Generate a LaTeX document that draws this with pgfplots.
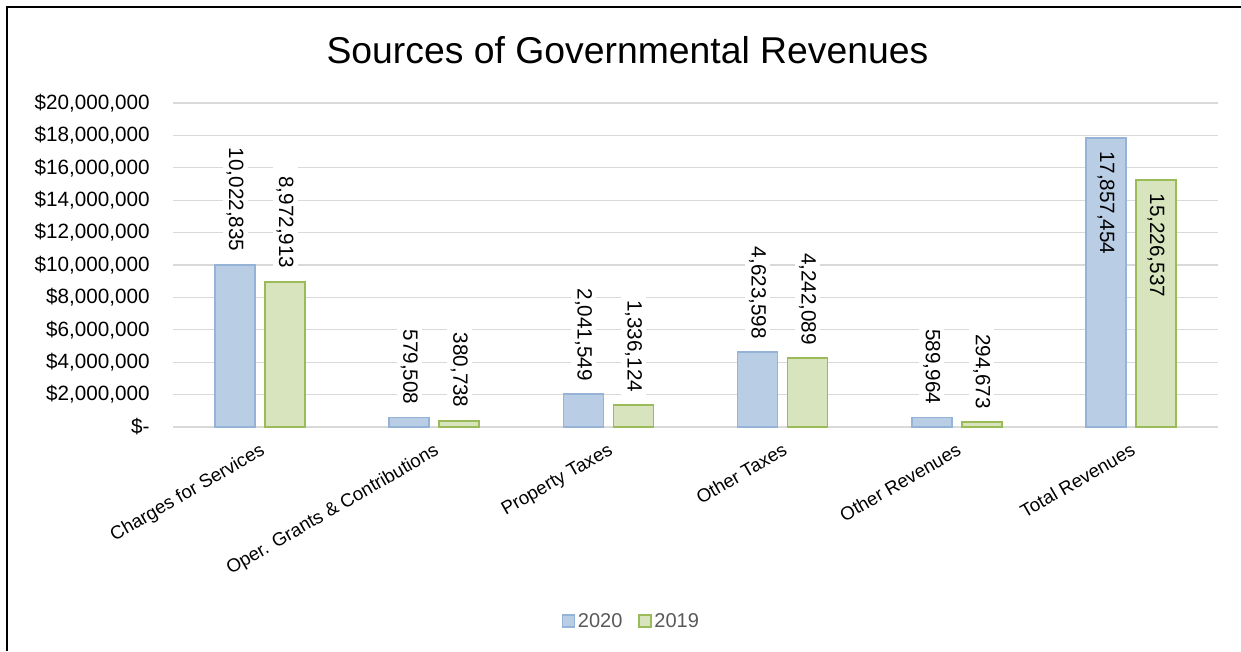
\documentclass[border=0pt]{standalone}
\usepackage{fontspec}
\setmainfont{Liberation Sans}
\usepackage{pgfplots}
\usepackage{pgfplotstable}
\pgfplotsset{compat=1.18}

\definecolor{blueFill}{RGB}{185,205,229}
\definecolor{blueLine}{RGB}{149,179,215}
\definecolor{greenFill}{RGB}{215,228,189}
\definecolor{greenLine}{RGB}{155,187,89}
\definecolor{gridGray}{RGB}{217,217,217}
\definecolor{legGray}{RGB}{89,89,89}

\pgfplotstableread{
x a b la lb
0 10022835 8972913 10,022,835 8,972,913
1 579508 380738 579,508 380,738
2 2041549 1336124 2,041,549 1,336,124
3 4623598 4242089 4,623,598 4,242,089
4 589964 294673 589,964 294,673
5 17857454 15226537 17,857,454 15,226,537
}\revdata

\begin{document}
\begin{tikzpicture}
\useasboundingbox (0,0) rectangle (930.75pt,488.25pt);
\fill[white] (0,0) rectangle (930.75pt,488.25pt);
\draw[line width=1.6pt] (5.25pt,0) -- (5.25pt,483pt) -- (930.75pt,483pt);

\node[font=\fontsize{28}{33}\selectfont] at (470.6pt,450.75pt) {Sources of Governmental Revenues};

\begin{axis}[
    at={(129.75pt,168pt)}, anchor=south west,
    scale only axis,
    width=783.75pt, height=243pt,
    ybar=7.5pt, bar width=30pt,
    xmin=-0.5, xmax=5.5,
    ymin=0, ymax=20000000,
    xtick={0,1,2,3,4,5},
    xticklabels={Charges for Services, Oper. Grants \& Contributions, Property Taxes, Other Taxes, Other Revenues, Total Revenues},
    xticklabel style={rotate=30, anchor=north east, font=\fontsize{14}{16}\selectfont, yshift=-6pt, xshift=-3pt},
    ytick={0,2000000,4000000,6000000,8000000,10000000,12000000,14000000,16000000,18000000,20000000},
    yticklabels={\$-, {\$2,000,000}, {\$4,000,000}, {\$6,000,000}, {\$8,000,000}, {\$10,000,000}, {\$12,000,000}, {\$14,000,000}, {\$16,000,000}, {\$18,000,000}, {\$20,000,000}},
    yticklabel style={font=\fontsize{15.5}{18}\selectfont, anchor=east, xshift=-14pt},
    scaled y ticks=false,
    major tick length=0pt,
    ymajorgrids, grid style={gridGray, line width=0.9pt},
    axis x line*=bottom, axis y line*=left,
    x axis line style={gridGray, line width=0.9pt, -},
    y axis line style={draw=none},
    point meta=explicit symbolic,
    nodes near coords,
    % labels sit above the bar, except for the tall Total Revenues bars where they go inside
    nodes near coords style={font=\fontsize{15.5}{18}\selectfont, text=black, rotate=-90,
        /utils/exec={\ifnum\idx=5 \def\anc{west}\def\fo{0}\else\def\anc{east}\def\fo{1}\fi},
        anchor=\anc, fill=white, fill opacity=\fo, text opacity=1,
        inner xsep=8pt, inner ysep=3pt, outer xsep=2pt},
    legend style={at={(0.439,-0.599)}, anchor=center, draw=none, legend columns=2,
        font=\fontsize{15}{18}\selectfont, text=legGray, /tikz/every even column/.append style={column sep=10pt}},
    legend image code/.code={\draw[#1, line width=1pt] (0pt,-4.5pt) rectangle (9pt,4.5pt);},
]
\addplot[fill=blueFill, draw=blueLine, line width=1.3pt,
    visualization depends on={value \coordindex \as \idx}] table[x=x, y=a, meta=la] {\revdata};
\addplot[fill=greenFill, draw=greenLine, line width=1.3pt,
    visualization depends on={value \coordindex \as \idx}] table[x=x, y=b, meta=lb] {\revdata};
\legend{2020, 2019}
\end{axis}
\end{tikzpicture}
\end{document}
